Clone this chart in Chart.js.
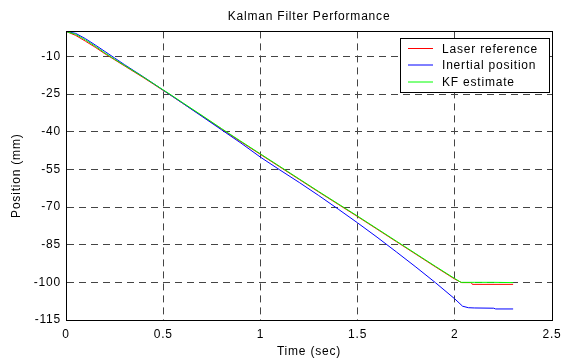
<!DOCTYPE html>
<html>
<head>
<meta charset="utf-8">
<script src="https://cdn.jsdelivr.net/npm/chart.js@4/dist/chart.umd.min.js"></script>
<style>
  body { margin: 0; background: #fff; }
  #wrap { width: 569px; height: 360px; }
</style>
</head>
<body>
<div id="wrap"><canvas id="kf" width="569" height="360"></canvas></div>
<script>
// time (sec) and position (mm)
const tLaser = [0, 0.05, 0.1, 0.15, 0.2, 0.25, 0.3, 0.35, 0.4, 0.45, 0.5, 0.55, 0.6, 0.7, 0.8, 0.9, 1.0, 1.1, 1.2, 1.3, 1.4, 1.5, 1.6, 1.7, 1.8, 1.9, 2.0, 2.035, 2.085, 2.09, 2.3];
const laser = [0, -1.6, -3.9, -6.3, -8.9, -11.3, -13.7, -16.1, -18.5, -21.0, -23.5, -26.0, -28.6, -33.7, -38.9, -44.0, -49.0, -54.0, -59.0, -64.0, -68.9, -73.8, -78.8, -83.8, -88.8, -93.8, -98.7, -100.1, -100.1, -100.8, -100.8];

const tInertial = [0, 0.05, 0.1, 0.15, 0.2, 0.25, 0.3, 0.35, 0.4, 0.45, 0.5, 0.55, 0.6, 0.7, 0.8, 0.9, 1.0, 1.1, 1.2, 1.3, 1.4, 1.5, 1.6, 1.7, 1.8, 1.9, 2.0, 2.04, 2.07, 2.1, 2.2, 2.21, 2.3];
const inertial = [0, -0.8, -2.9, -5.4, -8.0, -10.6, -13.2, -15.7, -18.2, -20.8, -23.4, -26.0, -28.6, -33.9, -39.2, -44.5, -50.1, -55.2, -60.2, -65.4, -70.8, -76.3, -82.0, -87.9, -93.9, -100.1, -106.6, -109.5, -110.1, -110.2, -110.3, -110.6, -110.6];

const tKF = [0, 0.05, 0.1, 0.15, 0.2, 0.25, 0.3, 0.35, 0.4, 0.45, 0.5, 0.55, 0.6, 0.7, 0.8, 0.9, 1.0, 1.1, 1.2, 1.3, 1.4, 1.5, 1.6, 1.7, 1.8, 1.9, 2.0, 2.032, 2.1, 2.2, 2.3];
const kf = [0, -1.2, -3.4, -5.9, -8.6, -11.1, -13.5, -15.9, -18.3, -20.8, -23.3, -25.8, -28.4, -33.5, -38.7, -43.8, -48.8, -53.8, -58.8, -63.8, -68.7, -73.6, -78.6, -83.6, -88.6, -93.6, -98.5, -100.0, -100.0, -100.0, -100.1];

const xTicks = [0, 0.5, 1, 1.5, 2, 2.5];
const yTicks = [-115, -100, -85, -70, -55, -40, -25, -10];

function pts(t, v) {
    return t.map((x, i) => ({ x: x, y: v[i] }));
}

const FONT = 'Liberation Sans, Arial, Helvetica, sans-serif';
const SPACING = '0.8px';

// matlab text is a bit wider than liberation sans
const wideText = {
    id: 'wideText',
    beforeUpdate(chart) { chart.ctx.letterSpacing = SPACING; },
    beforeLayout(chart) { chart.ctx.letterSpacing = SPACING; },
    beforeDraw(chart) { chart.ctx.letterSpacing = SPACING; }
};

// matlab style legend in the top right corner + full axes box
const boxLegend = {
    id: 'boxLegend',
    afterDraw(chart) {
        const ctx = chart.ctx;
        const a = chart.chartArea;
        ctx.save();
        ctx.strokeStyle = '#000';
        ctx.lineWidth = 1;
        ctx.strokeRect(Math.round(a.left) + 0.5, Math.round(a.top) + 0.5,
            Math.round(a.right - a.left), Math.round(a.bottom - a.top));

        const bx = 400.5, by = 38.5, bw = 149, bh = 54;
        ctx.fillStyle = '#fff';
        ctx.fillRect(bx, by, bw, bh);
        ctx.strokeRect(bx, by, bw, bh);
        ctx.font = '12px ' + FONT;
        ctx.letterSpacing = SPACING;
        ctx.textBaseline = 'middle';
        ctx.textAlign = 'left';
        const rows = [48.5, 65, 82];
        const sets = chart.data.datasets;
        sets.forEach((ds, i) => {
            ctx.strokeStyle = ds.borderColor;
            ctx.beginPath();
            ctx.moveTo(408, rows[i]);
            ctx.lineTo(433, rows[i]);
            ctx.stroke();
            ctx.fillStyle = '#000';
            ctx.fillText(ds.label, 442, rows[i] + 1);
        });
        ctx.restore();
    }
};

const ctx = document.getElementById('kf').getContext('2d');

let config = {
    type: 'line',
    data: {
        datasets: [
            {
                label: 'Laser reference',
                data: pts(tLaser, laser),
                borderColor: '#ff0000',
                borderWidth: 1,
                pointRadius: 0,
                order: 2
            },
            {
                label: 'Inertial position',
                data: pts(tInertial, inertial),
                borderColor: '#0000ff',
                borderWidth: 1,
                pointRadius: 0,
                order: 1
            },
            {
                label: 'KF estimate',
                data: pts(tKF, kf),
                borderColor: '#00ff00',
                borderWidth: 1,
                pointRadius: 0,
                order: 0
            }
        ]
    },
    options: {
        responsive: false,
        animation: false,
        devicePixelRatio: 1,
        layout: { padding: { left: 0, right: 17, top: 0, bottom: 0 } },
        plugins: {
            legend: { display: false },
            tooltip: { enabled: false },
            title: {
                display: true,
                fullSize: false,
                text: 'Kalman Filter Performance',
                color: '#000',
                font: { family: FONT, size: 12, weight: 'normal' },
                padding: { top: 9, bottom: 8 }
            }
        },
        scales: {
            x: {
                type: 'linear',
                min: 0,
                max: 2.5,
                afterBuildTicks: (s) => { s.ticks = xTicks.map(v => ({ value: v })); },
                afterFit: (s) => { s.height = 40; },
                ticks: {
                    color: '#000',
                    font: { family: FONT, size: 12 },
                    padding: 7,
                    maxRotation: 0,
                    callback: (v) => String(v)
                },
                grid: { color: '#444', lineWidth: 1, drawTicks: false },
                border: { display: true, color: '#000', width: 1, dash: [7, 5] },
                title: {
                    display: true,
                    text: 'Time (sec)',
                    color: '#000',
                    font: { family: FONT, size: 12 },
                    padding: { top: 0, bottom: 1 }
                }
            },
            y: {
                type: 'linear',
                min: -115,
                max: 0,
                afterBuildTicks: (s) => { s.ticks = yTicks.map(v => ({ value: v })); },
                afterFit: (s) => { s.width = 66; },
                ticks: {
                    color: '#000',
                    font: { family: FONT, size: 12 },
                    padding: 5,
                    callback: (v) => String(v)
                },
                grid: { color: '#444', lineWidth: 1, drawTicks: false },
                border: { display: true, color: '#000', width: 1, dash: [7, 5] },
                title: {
                    display: true,
                    text: 'Position (mm)',
                    color: '#000',
                    font: { family: FONT, size: 12 },
                    padding: { top: 9, bottom: 0 }
                }
            }
        }
    },
    plugins: [wideText, boxLegend]
};

const mychart = new Chart(ctx, config);
</script>
</body>
</html>
